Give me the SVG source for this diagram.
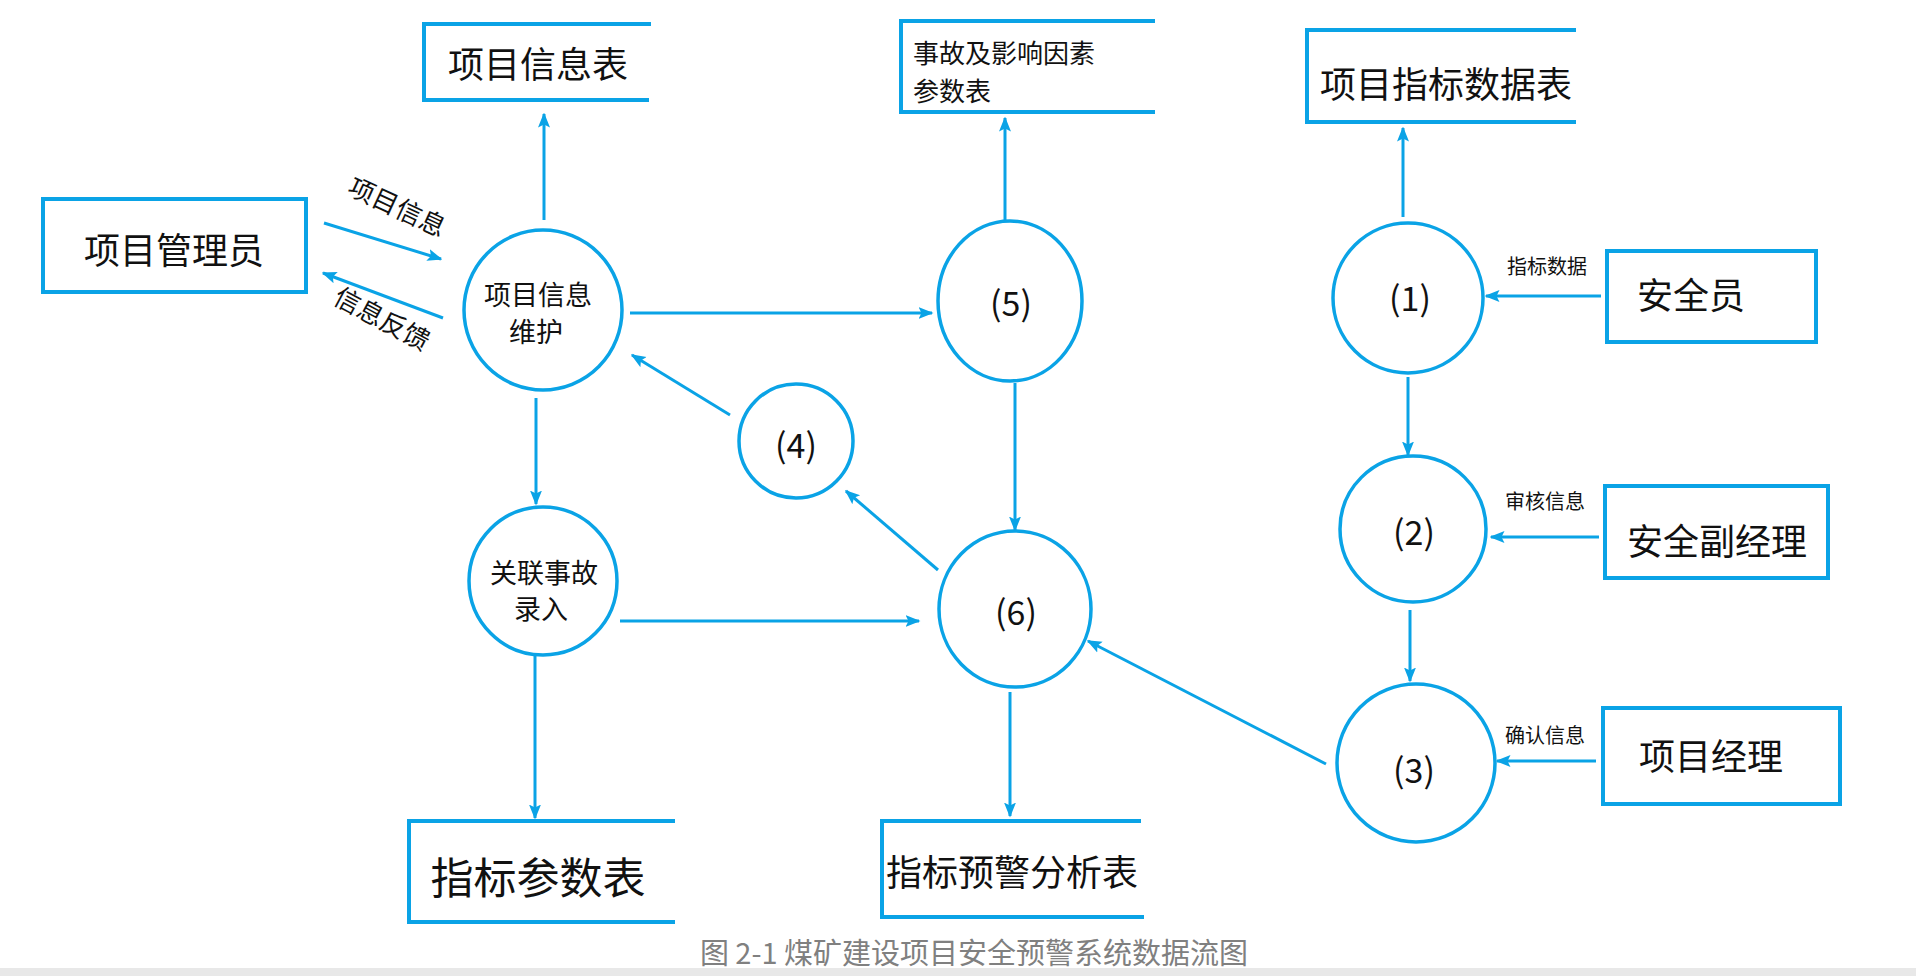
<svg xmlns="http://www.w3.org/2000/svg" width="1916" height="976" viewBox="0 0 1916 976">
<defs>
<style>
.b{fill:none;stroke:#0aa3e6;stroke-width:4}
.c{fill:#fff;stroke:#0aa3e6;stroke-width:3.5}
.l{fill:none;stroke:#0aa3e6;stroke-width:3;marker-end:url(#ah)}
text{font-family:"Noto Sans CJK SC","Noto Sans",sans-serif;fill:#111;dominant-baseline:central}
.m{text-anchor:middle}
.n{font-size:34px;text-anchor:middle}
</style>
<marker id="ah" viewBox="0 0 10 10" refX="9" refY="5" markerWidth="5" markerHeight="5" orient="auto" markerUnits="strokeWidth"><path d="M0,1 L10,5 L0,9 L2,5 z" fill="#0aa3e6"/></marker>
</defs>
<rect width="1916" height="976" fill="#fff"/>
<rect x="0" y="968" width="1916" height="8" fill="#e8e8e8"/>
<g id="connectors">
<line class="l" x1="544" y1="220" x2="544" y2="114"/>
<line class="l" x1="324" y1="223" x2="441" y2="259"/>
<line class="l" x1="443" y1="318" x2="323" y2="273"/>
<line class="l" x1="630" y1="313" x2="932" y2="313"/>
<line class="l" x1="730" y1="415" x2="632" y2="355"/>
<line class="l" x1="536" y1="398" x2="536" y2="504"/>
<line class="l" x1="620" y1="621" x2="919" y2="621"/>
<line class="l" x1="938" y1="570" x2="846" y2="491"/>
<line class="l" x1="535" y1="656" x2="535" y2="818"/>
<line class="l" x1="1005" y1="221" x2="1005" y2="118"/>
<line class="l" x1="1015" y1="383" x2="1015" y2="530"/>
<line class="l" x1="1010" y1="692" x2="1010" y2="816"/>
<line class="l" x1="1403" y1="217" x2="1403" y2="128"/>
<line class="l" x1="1601" y1="296" x2="1486" y2="296"/>
<line class="l" x1="1408" y1="377" x2="1408" y2="455"/>
<line class="l" x1="1599" y1="537" x2="1491" y2="537"/>
<line class="l" x1="1410" y1="610" x2="1410" y2="681"/>
<line class="l" x1="1596" y1="761" x2="1497" y2="761"/>
<line class="l" x1="1326" y1="764" x2="1088" y2="641"/>
<text x="398" y="205" font-size="26" class="m" transform="rotate(25 398 205)">项目信息</text>
<text x="383" y="317" font-size="26" class="m" transform="rotate(28 383 317)">信息反馈</text>
<text x="1547" y="265" font-size="20" class="m">指标数据</text>
<text x="1545" y="500" font-size="20" class="m">审核信息</text>
<text x="1545" y="734" font-size="20" class="m">确认信息</text>
</g>
<g id="n-manager"><rect class="b" x="43" y="199" width="263" height="93"/><text x="174" y="248" font-size="36" class="m">项目管理员</text></g>
<g id="n-infotable"><path class="b" d="M651,24 H424 V100 H649"/><text x="538" y="62" font-size="36" class="m">项目信息表</text></g>
<g id="n-accident"><path class="b" d="M1155,21 H901 V112 H1155"/><text x="913" y="51" font-size="26">事故及影响因素</text><text x="913" y="89" font-size="26">参数表</text></g>
<g id="n-indicator"><path class="b" d="M1576,30 H1307 V122 H1576"/><text x="1446" y="82" font-size="36" class="m">项目指标数据表</text></g>
<g id="n-safety"><rect class="b" x="1607" y="251" width="209" height="91"/><text x="1637" y="293" font-size="36">安全员</text></g>
<g id="n-deputy"><rect class="b" x="1605" y="486" width="223" height="92"/><text x="1717" y="539" font-size="36" class="m">安全副经理</text></g>
<g id="n-pm"><rect class="b" x="1603" y="708" width="237" height="96"/><text x="1711" y="754" font-size="36" class="m">项目经理</text></g>
<g id="n-param"><path class="b" d="M675,821 H409 V922 H675"/><text x="538" y="875" font-size="43" class="m">指标参数表</text></g>
<g id="n-warning"><path class="b" d="M1141,821 H882 V917 H1144"/><text x="1012" y="870" font-size="36" class="m">指标预警分析表</text></g>
<g id="n-maint"><ellipse class="c" cx="543" cy="310" rx="79" ry="80"/><text x="538" y="293" font-size="27" class="m">项目信息</text><text x="536" y="330" font-size="27" class="m">维护</text></g>
<g id="n-link"><ellipse class="c" cx="543" cy="581" rx="74" ry="74"/><text x="544" y="571" font-size="27" class="m">关联事故</text><text x="541" y="607" font-size="27" class="m">录入</text></g>
<g id="n4"><ellipse class="c" cx="796" cy="441" rx="57" ry="57"/><text x="796" y="443" class="n">(4)</text></g>
<g id="n5"><ellipse class="c" cx="1010" cy="301" rx="72" ry="80"/><text x="1011" y="301" class="n">(5)</text></g>
<g id="n6"><ellipse class="c" cx="1015" cy="609" rx="76" ry="78"/><text x="1016" y="610" class="n">(6)</text></g>
<g id="n1"><ellipse class="c" cx="1408" cy="298" rx="75" ry="75"/><text x="1410" y="296" class="n">(1)</text></g>
<g id="n2"><ellipse class="c" cx="1413" cy="529" rx="73" ry="73"/><text x="1414" y="530" class="n">(2)</text></g>
<g id="n3"><ellipse class="c" cx="1416" cy="763" rx="79" ry="79"/><text x="1414" y="768" class="n">(3)</text></g>
<text x="974" y="951" font-size="29" class="m" style="fill:#808080">图 2-1 煤矿建设项目安全预警系统数据流图</text>
</svg>
